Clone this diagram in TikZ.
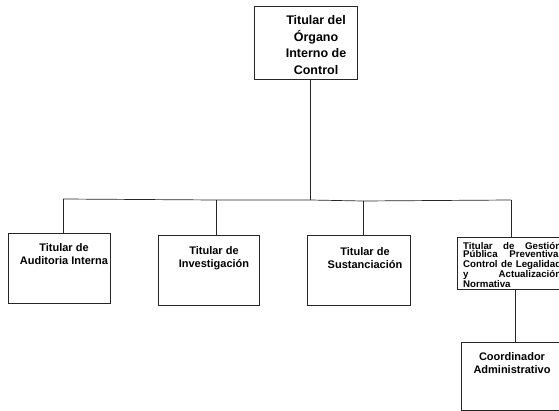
\documentclass[tikz,border=0pt]{standalone}
\usepackage{fontspec}
\setmainfont{Liberation Sans}
\newcommand{\jline}[1]{\leavevmode\hbox to 98pt{#1}}
\begin{document}
\begin{tikzpicture}[x=1pt,y=-1pt,
  box/.style={draw=black!85, line width=0.7pt, inner sep=0pt, anchor=north west},
  ln/.style={draw=black!85, line width=0.7pt},
  lbl/.style={font=\bfseries\fontsize{11}{13.3}\selectfont, align=center, inner sep=0pt, anchor=north},
  toplbl/.style={font=\bfseries\fontsize{12.5}{16.8}\selectfont, align=center, inner sep=0pt, anchor=north},
  smalllbl/.style={font=\bfseries\fontsize{9.7}{8.5}\selectfont, align=left, inner sep=0pt, anchor=north west, text width=98pt}]
\useasboundingbox (0,0) rectangle (559,411);
\clip (0,0) rectangle (559,411);
\fill[white] (0,0) rectangle (559,411);

% boxes
\node[box, minimum width=103pt, minimum height=73pt] (top) at (254,6) {};
\node[box, minimum width=102pt, minimum height=70pt] (b1) at (8,233) {};
\node[box, minimum width=101pt, minimum height=70pt] (b2) at (158,235) {};
\node[box, minimum width=103pt, minimum height=70pt] (b3) at (307,235) {};
\node[box, minimum width=125pt, minimum height=52pt] (b4) at (457,237) {};
\node[box, minimum width=125pt, minimum height=68pt] (b5) at (461,342) {};

% texts
\node[toplbl] (ttop) at (316,15) {Titular del\\Órgano\\Interno de\\Control};
\node[lbl] (t1) at (64,243) {Titular de\\Auditoria Interna};
\node[lbl] (t2) at (214,246) {Titular de\\Investigación};
\node[lbl] (t3) at (365,247) {Titular de\\Sustanciación};
\node[smalllbl] (t4) at (463,242) {\jline{Titular\hfill de\hfill Gestión}\\
  \jline{Pública\hfill Preventiva,}\\
  \jline{Control\hfill de\hfill Legalidad}\\
  \jline{y\hfill Actualización}\\
  Normativa};
\node[lbl] (t5) at (512,352) {Coordinador\\Administrativo};

% connectors
\coordinate (j0) at (310,200);
\coordinate (busL) at (63,199);
\coordinate (d2) at (216,200);
\coordinate (d3) at (363,201);
\coordinate (busR) at (511,200);
\coordinate (d5) at (515,300);

\draw[ln] (top.south -| j0) -- (j0);
\draw[ln] (busL) -- (d2) -- (j0) -- (d3) -- (busR);
\draw[ln] (busL) -- (busL |- b1.north);
\draw[ln] (d2) -- (d2 |- b2.north);
\draw[ln] (d3) -- (d3 |- b3.north);
\draw[ln] (busR) -- (busR |- b4.north);
\draw[ln] (d5 |- b4.south) -- (d5 |- b5.north);
\end{tikzpicture}
\end{document}
